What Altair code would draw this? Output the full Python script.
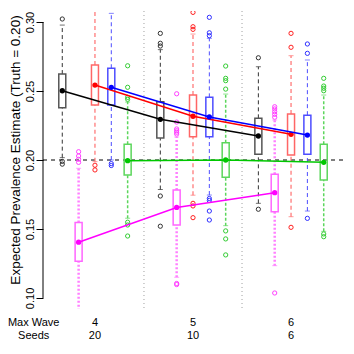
import altair as alt
import pandas as pd

# ---------------- data ----------------
series = ["black", "magenta", "red", "blue", "green"]
line_colors = ["#000000", "#FF00FF", "#FF0000", "#0000FF", "#00C800"]
box_colors = ["#555555", "#FF66FF", "#FF6666", "#4D4DFF", "#5CD65C"]
whisker_colors = ["#333333", "#FF80FF", "#FF7070", "#4D4DFF", "#5CD65C"]
outlier_colors = ["#333333", "#FF40FF", "#FF2020", "#3030FF", "#33CC33"]
whisker_dash = [[4, 3], [2, 2], [4, 3], [4, 3], [3, 2]]
whisker_width = [1, 2.5, 1.2, 1, 1.5]

group_start = [1, 7, 13]
wave_labels = ["4", "5", "6"]
seed_labels = ["20", "10", "6"]
label_pos = [3, 9, 15]
separators = [6, 12]
yticks = [0.10, 0.15, 0.20, 0.25, 0.30]
truth = [0.20]
x_domain = [-0.18, 18.18]
y_domain = [0.092, 0.308]

means = {
    "black":   [0.2502, 0.2295, 0.2174],
    "magenta": [0.1404, 0.1656, 0.1763],
    "red":     [0.2543, 0.2317, 0.2186],
    "blue":    [0.2527, 0.2312, 0.2181],
    "green":   [0.1995, 0.2000, 0.1983],
}
q1 = {
    "black":   [0.2379, 0.2159, 0.2041],
    "magenta": [0.1267, 0.1529, 0.1625],
    "red":     [0.2399, 0.2169, 0.2036],
    "blue":    [0.2399, 0.2169, 0.2041],
    "green":   [0.1891, 0.1875, 0.1855],
}
q3 = {
    "black":   [0.2623, 0.2422, 0.2302],
    "magenta": [0.1547, 0.1783, 0.1896],
    "red":     [0.2688, 0.2471, 0.2333],
    "blue":    [0.2665, 0.2454, 0.2325],
    "green":   [0.2114, 0.2125, 0.2114],
}
whisk_lo = {
    "black":   [0.2017, 0.1786, 0.1686],
    "magenta": [0.0850, 0.1150, 0.1234],
    "red":     [0.1988, 0.1745, 0.1589],
    "blue":    [0.2000, 0.1746, 0.1630],
    "green":   [0.1578, 0.1524, 0.1483],
}
whisk_hi = {
    "black":   [0.2978, 0.2800, 0.2676],
    "magenta": [0.1940, 0.2167, 0.2290],
    "red":     [0.3150, 0.2913, 0.2756],
    "blue":    [0.3063, 0.2882, 0.2725],
    "green":   [0.2420, 0.2478, 0.2471],
}
outliers = {
    "black":   [[0.3022, 0.1990, 0.1970],
                [0.2918, 0.2846, 0.2826, 0.1739, 0.1520],
                [0.2741, 0.1643]],
    "magenta": [[0.2060, 0.2029, 0.2005, 0.1983],
                [0.2480, 0.2275, 0.2225, 0.2212, 0.2201, 0.2188, 0.1105, 0.1097],
                [0.2386, 0.2370, 0.2350, 0.2331, 0.2310, 0.1036]],
    "red":     [[0.1962, 0.1928],
                [0.3070, 0.2966, 0.2947, 0.1686, 0.1667, 0.1582],
                [0.2918, 0.2817, 0.1512]],
    "blue":    [[0.1974, 0.1960],
                [0.3034, 0.2922, 0.2901, 0.1721, 0.1707, 0.1630, 0.1565],
                [0.2841, 0.2773, 0.1577]],
    "green":   [[0.2683, 0.2527, 0.2454, 0.2440, 0.1549, 0.1529, 0.1449],
                [0.2681, 0.2592, 0.2575, 0.2514, 0.1486, 0.1428, 0.1312],
                [0.2592, 0.2536, 0.2520, 0.2502, 0.1464, 0.1444]],
}

FONT = "Liberation Sans"

# ---------------- tables ----------------
box_rows, out_rows = [], []
for si, s in enumerate(series):
    for gi, g0 in enumerate(group_start):
        pos = g0 + si
        box_rows.append(dict(series=s, pos=pos, q1=q1[s][gi], q3=q3[s][gi],
                             lo=whisk_lo[s][gi], hi=whisk_hi[s][gi],
                             mean=means[s][gi]))
        for v in outliers[s][gi]:
            out_rows.append(dict(series=s, pos=pos, value=v))
box_df = pd.DataFrame(box_rows)
out_df = pd.DataFrame(out_rows)

xs = alt.Scale(domain=x_domain, nice=False, zero=False, padding=0)
ys = alt.Scale(domain=y_domain, nice=False, zero=False, padding=0)

yaxis = alt.Axis(
    values=yticks, format=".2f", labelAngle=270, labelAlign="center",
    labelBaseline="alphabetic", labelPadding=3, tickSize=7,
    tickColor="#000000", domain=False, grid=False,
    labelFont=FONT, labelFontSize=11, labelColor="#000000",
    title="Expected Prevalence Estimate (Truth = 0.20)",
    titleFont=FONT, titleFontSize=13.5, titleFontWeight="normal",
    titleColor="#000000", titleAngle=270, titleAlign="center",
    titleBaseline="bottom", titleX=-21, titleY=138.5)


def X(f="pos"):
    return alt.X(f"{f}:Q", scale=xs, axis=None)


def Y(f):
    return alt.Y(f"{f}:Q", scale=ys, axis=yaxis)


layers = []

# separators
layers.append(alt.Chart(pd.DataFrame({"x": separators})).mark_rule(
    color="#A0A0A0", strokeDash=[1, 3], strokeWidth=1).encode(x=X("x")))

# truth line
layers.append(alt.Chart(pd.DataFrame({"y": truth})).mark_rule(
    color="#000000", strokeDash=[4, 4], strokeWidth=1).encode(y=Y("y")))

for si, s in enumerate(series):
    bd = box_df[box_df.series == s]
    od = out_df[out_df.series == s]
    wopts = dict(color=whisker_colors[si], strokeDash=whisker_dash[si],
                 strokeWidth=whisker_width[si], clip=True)
    layers.append(alt.Chart(bd).mark_rule(**wopts).encode(
        x=X(), y=Y("q3"), y2="hi:Q"))
    layers.append(alt.Chart(bd).mark_rule(**wopts).encode(
        x=X(), y=Y("lo"), y2="q1:Q"))
    layers.append(alt.Chart(bd).mark_tick(
        orient="horizontal", size=5, thickness=1, color=whisker_colors[si],
        clip=True).encode(x=X(), y=Y("hi")))
    layers.append(alt.Chart(bd).mark_tick(
        orient="horizontal", size=5, thickness=1, color=whisker_colors[si],
        clip=True).encode(x=X(), y=Y("lo")))
    layers.append(alt.Chart(bd).mark_bar(
        size=7, fillOpacity=0, stroke=box_colors[si], strokeWidth=1.5).encode(
        x=X(), y=Y("q1"), y2="q3:Q"))
    layers.append(alt.Chart(od).mark_point(
        shape="circle", filled=False, size=18, strokeWidth=1,
        color=outlier_colors[si], opacity=1, clip=True).encode(
        x=X(), y=Y("value")))

for si, s in enumerate(series):
    bd = box_df[box_df.series == s]
    layers.append(alt.Chart(bd).mark_line(
        color=line_colors[si], strokeWidth=1.5).encode(x=X(), y=Y("mean")))
    layers.append(alt.Chart(bd).mark_point(
        shape="circle", filled=True, size=28, color=line_colors[si],
        opacity=1).encode(x=X(), y=Y("mean")))

# R-style axis line over the tick range only
layers.append(alt.Chart(pd.DataFrame({"x": [x_domain[0]], "y": [yticks[0]],
                                      "y2": [yticks[-1]]})).mark_rule(
    color="#000000", strokeWidth=1).encode(x=X("x"), y=Y("y"), y2="y2:Q"))

# bottom text rows
lab_df = pd.DataFrame({"x": label_pos, "wave": wave_labels, "seeds": seed_labels})
layers.append(alt.Chart(lab_df).mark_text(
    font=FONT, fontSize=11, color="#000000", baseline="alphabetic").encode(
    x=X("x"), y=alt.value(314.5), text="wave:N"))
layers.append(alt.Chart(lab_df).mark_text(
    font=FONT, fontSize=11, color="#000000", baseline="alphabetic").encode(
    x=X("x"), y=alt.value(328), text="seeds:N"))
row_df = pd.DataFrame({"x": [-0.75], "a": ["Max Wave"], "b": ["Seeds"]})
layers.append(alt.Chart(row_df).mark_text(
    font=FONT, fontSize=11, color="#000000", baseline="alphabetic").encode(
    x=X("x"), y=alt.value(314.5), text="a:N"))
layers.append(alt.Chart(row_df).mark_text(
    font=FONT, fontSize=11, color="#000000", baseline="alphabetic").encode(
    x=X("x"), y=alt.value(328), text="b:N"))

chart = alt.layer(*layers).properties(
    width=300, height=298,
    autosize=alt.AutoSizeParams(type="none"),
    padding={"left": 35, "top": 3, "right": 3, "bottom": 40},
).configure_view(strokeWidth=0)

chart.save("out.html", embed_options={"renderer": "svg", "actions": False})
